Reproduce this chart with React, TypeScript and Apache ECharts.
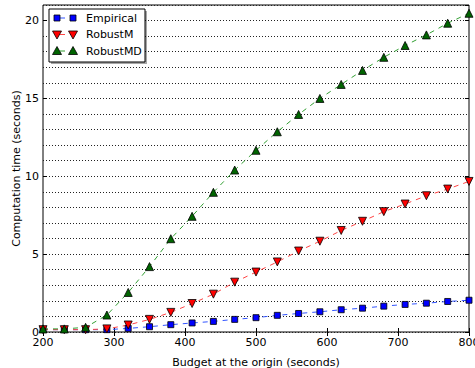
import React, { useEffect, useRef } from "react";
import * as echarts from "echarts";

const budgets = [200, 230, 260, 290, 320, 350, 380, 410, 440, 470, 500, 530, 560, 590, 620, 650, 680, 710, 740, 770, 800];
const empirical = [0.15, 0.15, 0.15, 0.15, 0.23, 0.34, 0.47, 0.58, 0.68, 0.81, 0.92, 1.07, 1.19, 1.3, 1.43, 1.53, 1.66, 1.77, 1.85, 1.96, 2.04];
const robustM = [0.15, 0.15, 0.15, 0.2, 0.45, 0.81, 1.26, 1.83, 2.43, 3.2, 3.85, 4.5, 5.2, 5.83, 6.52, 7.11, 7.73, 8.22, 8.75, 9.18, 9.67];
const robustMD = [0.2, 0.2, 0.3, 1.09, 2.54, 4.2, 5.99, 7.43, 8.97, 10.4, 11.67, 12.86, 13.97, 15.0, 15.9, 16.8, 17.64, 18.4, 19.08, 19.83, 20.47];
const seriesNames = ["Empirical", "RobustM", "RobustMD"];

const FONT = "DejaVu Sans";
const LINE_COLORS = ["#3355ff", "#ff4444", "#33a033"];
const FILL_COLORS = ["#0000ff", "#ff0000", "#006400"];

export default function App() {
  const ref = useRef<HTMLDivElement>(null);
  useEffect(() => {
    if (!ref.current) return;
    const chart = echarts.init(ref.current, null, { renderer: "svg" });
    const pair = (ys: number[]) => budgets.map((x, i) => [x, ys[i]]);
    const mk = (i: number, ys: number[], symbol: string, rot: number, size: number) => ({
      name: seriesNames[i],
      type: "line",
      data: pair(ys),
      symbol,
      symbolRotate: rot,
      symbolSize: size,
      showSymbol: true,
      lineStyle: { color: LINE_COLORS[i], width: 1, type: [5, 5] },
      itemStyle: { color: FILL_COLORS[i], borderColor: "#000", borderWidth: 0.8 },
      xAxisIndex: 0,
      yAxisIndex: 0,
    });

    // legend drawn as graphic (matplotlib style: marker - dash - marker)
    const lx = 49, ly = 9, lw = 96, lh = 53;
    const rows = [18, 34.5, 51];
    const mx = [57, 73];
    const marker = (i: number, x: number, y: number) => {
      const st = { fill: FILL_COLORS[i], stroke: "#000", lineWidth: 0.8 };
      if (i === 0) return { type: "rect", shape: { x: x - 3, y: y - 3, width: 6, height: 6 }, style: st, z: 102 };
      if (i === 1) return { type: "polygon", shape: { points: [[x - 4.5, y - 3.5], [x + 4.5, y - 3.5], [x, y + 4.5]] }, style: st, z: 102 };
      return { type: "polygon", shape: { points: [[x - 4.5, y + 3.5], [x + 4.5, y + 3.5], [x, y - 4.5]] }, style: st, z: 102 };
    };
    const legendEls: any[] = [
      { type: "rect", shape: { x: lx + 2, y: ly + 2, width: lw, height: lh }, style: { fill: "rgba(0,0,0,0.35)" }, z: 99 },
      { type: "rect", shape: { x: lx, y: ly, width: lw, height: lh }, style: { fill: "#fff", stroke: "#000", lineWidth: 1 }, z: 100 },
    ];
    seriesNames.forEach((name, i) => {
      const y = rows[i];
      legendEls.push({ type: "line", shape: { x1: mx[0], y1: y, x2: mx[1], y2: y }, style: { stroke: LINE_COLORS[i], lineWidth: 1, lineDash: [5, 5], lineDashOffset: -3 }, z: 101 });
      legendEls.push(marker(i, mx[0], y));
      legendEls.push(marker(i, mx[1], y));
      legendEls.push({ type: "text", x: 86, y, style: { text: name, fontFamily: FONT, fontSize: 11, fill: "#000", verticalAlign: "middle", align: "left" }, z: 102 });
    });

    chart.setOption({
      animation: false,
      backgroundColor: "#fff",
      textStyle: { fontFamily: FONT },
      grid: {
        left: 43, right: 6, top: 5, bottom: 36,
        outerBoundsMode: "none",
        containLabel: false,
        show: true, borderColor: "#000", borderWidth: 1, backgroundColor: "transparent",
      },
      graphic: legendEls,
      xAxis: [
        {
          type: "value",
          min: 200,
          max: 800,
          interval: 100,
          name: "Budget at the origin (seconds)",
          nameLocation: "middle",
          nameGap: 25,
          nameMoveOverlap: false,
          nameTextStyle: { fontFamily: FONT, fontSize: 11, color: "#000" },
          axisLine: { show: false },
          axisTick: { inside: true, length: 4, lineStyle: { color: "#000" } },
          axisLabel: { fontFamily: FONT, fontSize: 11, color: "#000", margin: 5 },
          splitLine: { show: false },
        },
        {
          type: "value",
          position: "top",
          min: 200,
          max: 800,
          interval: 100,
          axisLine: { show: false },
          axisTick: { inside: true, length: 4, lineStyle: { color: "#000" } },
          axisLabel: { show: false },
          splitLine: { show: false },
        },
      ],
      yAxis: [
        {
          type: "value",
          min: 0,
          max: 21,
          interval: 5,
          name: "Computation time (seconds)",
          nameLocation: "middle",
          nameGap: 21,
          nameMoveOverlap: false,
          nameTextStyle: { fontFamily: FONT, fontSize: 11, color: "#000" },
          axisLine: { show: false },
          axisTick: { inside: true, length: 4, lineStyle: { color: "#000" } },
          axisLabel: { fontFamily: FONT, fontSize: 11, color: "#000", margin: 4, showMaxLabel: false },
          splitLine: { show: false },
        },
        {
          type: "value",
          position: "right",
          min: 0,
          max: 21,
          interval: 1,
          axisLine: { show: false },
          axisTick: { show: false },
          axisLabel: { show: false },
          splitLine: { show: true, lineStyle: { color: "#222", width: 1, type: [1, 2] } },
        },
        {
          type: "value",
          position: "right",
          min: 0,
          max: 21,
          interval: 5,
          axisLine: { show: false },
          axisTick: { inside: true, length: 4, lineStyle: { color: "#000" } },
          axisLabel: { show: false },
          splitLine: { show: false },
        },
      ],
      series: [
        mk(0, empirical, "rect", 0, 6),
        mk(1, robustM, "triangle", 180, 8),
        mk(2, robustMD, "triangle", 0, 8),
      ],
    });
    return () => chart.dispose();
  }, []);
  return <div ref={ref} style={{ width: 475, height: 368, position: "absolute", left: 0, top: 0 }} />;
}
